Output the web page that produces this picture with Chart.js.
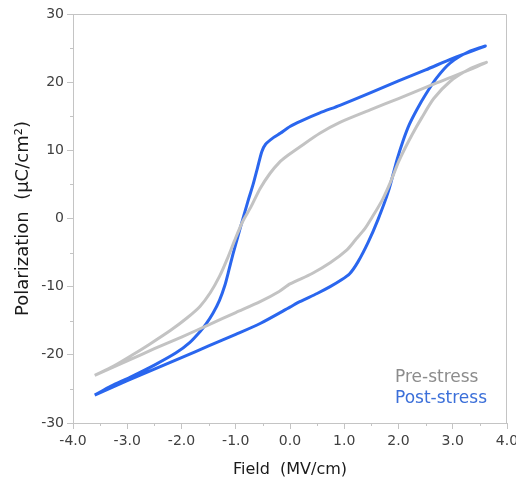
<!DOCTYPE html>
<html>
<head>
<meta charset="utf-8">
<script src="https://cdn.jsdelivr.net/npm/chart.js@4.4.1/dist/chart.umd.min.js"></script>
<style>
  html, body { margin: 0; padding: 0; background: #fff; }
  #wrap { width: 516px; height: 483px; }
</style>
</head>
<body>
<div id="wrap"><canvas id="peChart" width="516" height="483"></canvas></div>
<script>
// Pre-stress loop (field in MV/cm, polarization in uC/cm2)
const preField = [-3.6, -3.0, -2.5, -2.0, -1.5, -1.0, -0.55, -0.2, 0.0, 0.4, 0.74, 1.05, 1.2, 1.38, 1.5, 1.7, 1.85, 2.0, 2.12, 2.25, 2.43, 2.65, 2.95, 3.3, 3.62,
                  3.0, 2.58, 2.0, 1.5, 0.92, 0.55, 0.18, -0.05, -0.2, -0.37, -0.55, -0.72, -0.87, -1.02, -1.16, -1.3, -1.47, -1.66, -1.9, -2.2, -2.58, -2.9, -3.26, -3.6];
const prePol   = [-23.0, -20.9, -19.1, -17.4, -15.6, -13.8, -12.2, -10.7, -9.6, -8.1, -6.5, -4.6, -3.2, -1.5, 0.0, 2.7, 5.3, 8.3, 10.3, 12.3, 14.8, 17.6, 20.1, 21.9, 22.9,
                  20.8, 19.5, 17.6, 16.0, 14.1, 12.5, 10.5, 9.2, 8.2, 6.6, 4.4, 1.7, -0.4, -3.2, -6.0, -8.5, -10.9, -12.9, -14.6, -16.4, -18.4, -20.0, -21.7, -23.0];

// Post-stress loop
const postField = [-3.6, -3.0, -2.5, -2.0, -1.5, -1.0, -0.55, 0.0, 0.18, 0.5, 0.74, 0.95, 1.1, 1.25, 1.44, 1.62, 1.81, 1.98, 2.08, 2.2, 2.34, 2.5, 2.7, 2.95, 3.3, 3.6,
                   3.0, 2.5, 2.0, 1.5, 0.92, 0.55, 0.2, 0.0, -0.18, -0.3, -0.45, -0.52, -0.6, -0.68, -0.78, -0.87, -0.96, -1.05, -1.13, -1.2, -1.3, -1.42, -1.55, -1.66, -1.85, -2.1, -2.5, -2.95, -3.3, -3.6];
const postPol   = [-25.9, -23.8, -22.1, -20.4, -18.7, -17.0, -15.4, -13.0, -12.2, -11.0, -10.0, -9.0, -8.1, -6.4, -3.5, -0.2, 3.9, 8.8, 11.3, 13.8, 16.0, 18.2, 20.6, 22.8, 24.5, 25.3,
                   23.5, 21.8, 20.2, 18.5, 16.6, 15.5, 14.3, 13.5, 12.5, 11.9, 10.9, 9.8, 7.4, 5.0, 2.4, -0.1, -2.6, -5.2, -7.7, -9.8, -12.0, -13.9, -15.5, -16.6, -18.2, -19.7, -21.5, -23.3, -24.6, -25.9];

const seriesNames = ['Pre-stress', 'Post-stress'];
const lineColors = ['#c3c3c3', '#2a66ee'];
const legendColors = ['#8c8c8c', '#3b6fd9'];

const xTicks = [-4, -3, -2, -1, 0, 1, 2, 3, 4];
const yTicks = [-30, -20, -10, 0, 10, 20, 30];

function toPoints(xs, ys) {
    return xs.map((x, i) => ({ x: x, y: ys[i] }));
}

const FONT = 'DejaVu Sans, Verdana, sans-serif';
const AXIS_COLOR = '#c4c4c4';

// frame on top/right, minor ticks and the text legend
const framePlugin = {
    id: 'frame',
    afterDraw(chart) {
        const ctx = chart.ctx;
        const a = chart.chartArea;
        const xs = chart.scales.x, ys = chart.scales.y;
        ctx.save();
        ctx.strokeStyle = AXIS_COLOR;
        ctx.lineWidth = 1;
        ctx.beginPath();
        ctx.moveTo(a.left, a.top + 0.5);
        ctx.lineTo(a.right - 0.5, a.top + 0.5);
        ctx.lineTo(a.right - 0.5, a.bottom);
        ctx.stroke();
        ctx.beginPath();
        for (let i = 0; i < xTicks.length - 1; i++) {
            const px = Math.round(xs.getPixelForValue((xTicks[i] + xTicks[i + 1]) / 2)) + 0.5;
            ctx.moveTo(px, a.bottom);
            ctx.lineTo(px, a.bottom + 3);
        }
        for (let i = 0; i < yTicks.length - 1; i++) {
            const py = Math.round(ys.getPixelForValue((yTicks[i] + yTicks[i + 1]) / 2)) + 0.5;
            ctx.moveTo(a.left, py);
            ctx.lineTo(a.left - 3, py);
        }
        ctx.stroke();

        ctx.font = '17px ' + FONT;
        ctx.textAlign = 'left';
        ctx.textBaseline = 'middle';
        seriesNames.forEach((name, i) => {
            ctx.fillStyle = legendColors[i];
            ctx.fillText(name, a.right - 112, a.bottom - 45 + i * 21);
        });
        ctx.restore();
    }
};

new Chart(document.getElementById('peChart'), {
    type: 'scatter',
    data: {
        datasets: [
            {
                label: seriesNames[0],
                data: toPoints(preField, prePol),
                showLine: true,
                borderColor: lineColors[0],
                borderWidth: 3,
                pointRadius: 0,
                tension: 0.25
            },
            {
                label: seriesNames[1],
                data: toPoints(postField, postPol),
                showLine: true,
                borderColor: lineColors[1],
                borderWidth: 3,
                pointRadius: 0,
                tension: 0.25
            }
        ]
    },
    options: {
        responsive: false,
        animation: false,
        layout: { padding: { left: 0, right: 9, top: 14, bottom: 0 } },
        plugins: {
            legend: { display: false },
            tooltip: { enabled: false }
        },
        scales: {
            x: {
                type: 'linear',
                min: -4, max: 4,
                afterBuildTicks: s => { s.ticks = xTicks.map(v => ({ value: v })); },
                afterFit: s => { s.height = 60; s.paddingLeft = 0; s.paddingRight = 0; },
                grid: { drawOnChartArea: false, drawTicks: true, tickLength: 6, color: AXIS_COLOR },
                border: { color: AXIS_COLOR },
                ticks: {
                    color: '#404040', padding: 4,
                    font: { family: FONT, size: 14 },
                    callback: v => v.toFixed(1)
                },
                title: {
                    display: true, text: 'Field  (MV/cm)', color: '#1a1a1a',
                    font: { family: FONT, size: 16 }, padding: { top: 6 }
                }
            },
            y: {
                type: 'linear',
                min: -30, max: 30,
                afterBuildTicks: s => { s.ticks = yTicks.map(v => ({ value: v })); },
                afterFit: s => { s.width = 73; s.paddingTop = 0; s.paddingBottom = 0; },
                grid: { drawOnChartArea: false, drawTicks: true, tickLength: 6, color: AXIS_COLOR },
                border: { color: AXIS_COLOR },
                ticks: {
                    color: '#404040', padding: 3,
                    font: { family: FONT, size: 14 }
                },
                title: {
                    display: true, text: 'Polarization  (µC/cm²)', color: '#1a1a1a',
                    font: { family: FONT, size: 18 }, padding: { top: 13, bottom: 0 }
                }
            }
        }
    },
    plugins: [framePlugin]
});
</script>
</body>
</html>
